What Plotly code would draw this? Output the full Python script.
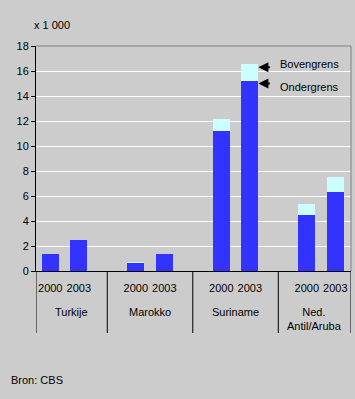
import plotly.graph_objects as go

countries = ["Turkije", "Marokko", "Suriname", "Ned.<br>Antil/Aruba"]
years = ["2000", "2003"]
ondergrens = [1.4, 2.5, 0.65, 1.4, 11.2, 15.2, 4.5, 6.35]
bovengrens = [1.4, 2.5, 0.72, 1.4, 12.2, 16.6, 5.4, 7.55]
y_ticks = [0, 2, 4, 6, 8, 10, 12, 14, 16, 18]

# slot positions: two years per country plus a blank slot between countries
xs, labels = [], []
for ci in range(len(countries)):
    for yi, yr in enumerate(years):
        xs.append(ci * 3 + yi)
        labels.append(yr)

extra = [b - o for b, o in zip(bovengrens, ondergrens)]

DARK = "#3333FF"
LIGHT = "#CCFFFF"
BG = "#CCCCCC"
FONT = "Liberation Sans, Arial, sans-serif"

fig = go.Figure()
fig.add_bar(x=xs, y=ondergrens, marker=dict(color=DARK, line=dict(width=0)), width=0.6, name="Ondergrens")
fig.add_bar(x=xs, y=extra, marker=dict(color=LIGHT, line=dict(width=0)), width=0.6, name="Bovengrens")

x_min, x_max = -0.5, 10.55

fig.update_layout(
    width=355, height=399,
    margin=dict(l=36, r=4, t=46, b=128),
    paper_bgcolor=BG, plot_bgcolor=BG,
    barmode="stack", showlegend=False,
    font=dict(family=FONT, size=11, color="black"),
    xaxis=dict(range=[x_min, x_max], tickvals=xs, ticktext=labels,
               ticks="outside", ticklen=7, tickcolor="rgba(0,0,0,0)",
               showgrid=False, zeroline=False, showline=True, linecolor="black", linewidth=1,
               tickfont=dict(size=11, family=FONT, color="black")),
    yaxis=dict(range=[0, 18], tickvals=y_ticks, ticks="outside", ticklen=4, tickcolor="black",
               showgrid=True, gridcolor="white", gridwidth=1, zeroline=False,
               showline=True, linecolor="black", linewidth=1,
               tickfont=dict(size=11, family=FONT, color="black")),
)

# gray top / right border
fig.add_shape(type="line", xref="paper", yref="paper", x0=0, x1=1, y0=1, y1=1,
              line=dict(color="#808080", width=1))
fig.add_shape(type="line", xref="paper", yref="paper", x0=1, x1=1, y0=0, y1=1,
              line=dict(color="#808080", width=1))

# group separators below axis
sep_depth = -(333 - 271) / 225
bounds = [x_min] + [ci * 3 + 2 for ci in range(len(countries) - 1)] + [x_max]
for b in bounds:
    fig.add_shape(type="line", xref="x", yref="paper", x0=b, x1=b, y0=0, y1=sep_depth,
                  line=dict(color="black", width=1))

# country labels
for ci, c in enumerate(countries):
    cx = (bounds[ci] + bounds[ci + 1]) / 2
    fig.add_annotation(x=cx, y=-(304 - 271) / 225, xref="x", yref="paper", text=c,
                       showarrow=False, xanchor="center", yanchor="top",
                       font=dict(size=11, family=FONT, color="black"))

# unit label and source
fig.add_annotation(x=(32 - 36) / 315, y=(271 - 25) / 225, xref="paper", yref="paper",
                   text="x 1 000", showarrow=False, xanchor="left", yanchor="middle",
                   font=dict(size=11, family=FONT, color="black"))
fig.add_annotation(x=(9 - 36) / 315, y=-(380 - 271) / 225, xref="paper", yref="paper",
                   text="Bron: CBS", showarrow=False, xanchor="left", yanchor="middle",
                   font=dict(size=11, family=FONT, color="black"))

# Bovengrens / Ondergrens arrows
for txt, yv_arrow, yv_text in [("Bovengrens", 16.3, 16.6), ("Ondergrens", 15.0, 14.7)]:
    fig.add_annotation(x=7.3, y=yv_arrow, xref="x", yref="y", text="", showarrow=True,
                       ax=13, ay=0, arrowhead=2, arrowsize=1, arrowwidth=2, arrowcolor="black")
    fig.add_annotation(x=8.0, y=yv_text, xref="x", yref="y", text=txt, showarrow=False,
                       xanchor="left", yanchor="middle",
                       font=dict(size=11, family=FONT, color="black"))

fig.write_html("out.html", config={"displayModeBar": False},
               post_script="document.body.style.margin='0';document.body.style.background='#CCCCCC';")
